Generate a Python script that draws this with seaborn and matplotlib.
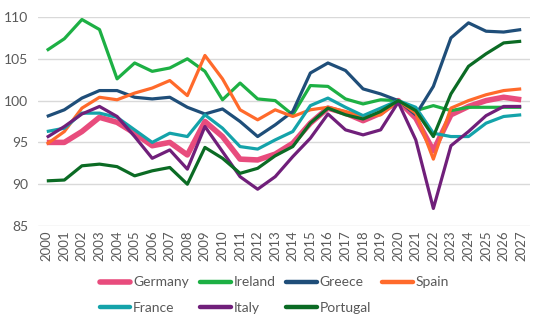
import matplotlib
matplotlib.use("Agg")
import matplotlib.pyplot as plt
import seaborn as sns
import pandas as pd
from matplotlib.lines import Line2D

years = list(range(2000, 2028))

germany = [95.0, 95.0, 96.3, 98.0, 97.4, 96.1, 94.6, 95.0, 93.5, 97.5, 95.7, 93.0, 92.9, 93.6,
           94.9, 97.3, 99.1, 98.5, 97.6, 98.5, 100.0, 97.9, 94.0, 98.3, 99.3, 100.0, 100.4, 100.1]
ireland = [106.0, 107.4, 109.7, 108.5, 102.6, 104.5, 103.5, 103.9, 105.0, 103.5, 100.1, 102.1, 100.2, 100.0,
           98.3, 101.8, 101.7, 100.2, 99.6, 100.1, 100.0, 98.8, 99.4, 98.8, 99.2, 99.2, 99.2, 99.2]
greece = [98.1, 98.9, 100.3, 101.2, 101.2, 100.4, 100.2, 100.4, 99.2, 98.4, 99.0, 97.5, 95.7, 97.1,
          98.7, 103.3, 104.5, 103.6, 101.4, 100.8, 100.0, 98.3, 101.7, 107.5, 109.3, 108.3, 108.2, 108.5]
spain = [94.8, 96.3, 99.1, 100.4, 100.1, 100.9, 101.5, 102.4, 100.6, 105.4, 102.6, 98.9, 97.7, 98.9,
         98.1, 98.9, 99.2, 98.7, 98.1, 98.3, 100.0, 98.5, 93.0, 99.1, 100.0, 100.7, 101.2, 101.4]
france = [96.3, 96.7, 98.5, 98.5, 98.0, 96.5, 95.0, 96.1, 95.7, 98.3, 96.7, 94.5, 94.2, 95.3,
          96.3, 99.4, 100.3, 99.2, 98.2, 99.1, 100.0, 99.2, 96.1, 95.7, 95.7, 97.3, 98.1, 98.3]
italy = [95.6, 96.9, 98.4, 99.3, 98.1, 95.7, 93.1, 94.1, 91.8, 96.9, 93.9, 90.9, 89.4, 90.9,
         93.3, 95.5, 98.4, 96.5, 95.9, 96.5, 99.8, 95.3, 87.1, 94.6, 96.3, 98.2, 99.3, 99.3]
portugal = [90.4, 90.5, 92.2, 92.4, 92.1, 91.0, 91.6, 92.0, 90.0, 94.4, 93.1, 91.3, 91.9, 93.4,
            94.5, 97.3, 99.1, 98.3, 97.8, 98.7, 100.0, 98.8, 95.7, 100.8, 104.1, 105.6, 106.9, 107.1]

series_names = ["Germany", "Ireland", "Greece", "Spain", "France", "Italy", "Portugal"]
series_values = [germany, ireland, greece, spain, france, italy, portugal]
colors = ["#E84C7D", "#1DB044", "#1F4E79", "#FF6A2B", "#14A3AA", "#701F7A", "#0B6B24"]
widths = [4.0, 2.3, 2.3, 2.3, 2.3, 2.3, 2.3]

sns.set_theme(style="white")
plt.rcParams["font.family"] = ["Lato", "DejaVu Sans"]
text_color = "#595959"

fig = plt.figure(figsize=(5.52, 3.31), dpi=100)
ax = fig.add_axes([38 / 552, 1 - 226 / 331, (530 - 38) / 552, (226 - 17) / 331])

for name, vals, c, w in zip(series_names, series_values, colors, widths):
    df = pd.DataFrame({"year": years, "value": vals})
    sns.lineplot(data=df, x="year", y="value", ax=ax, color=c, linewidth=w,
                 label=name, legend=False, solid_joinstyle="round", solid_capstyle="butt")

ax.set_xlim(1999.5, 2027.5)
ax.set_ylim(85, 110)
ax.set_yticks([85, 90, 95, 100, 105, 110])
ax.set_xticks(years)
ax.set_xticklabels([str(y) for y in years], rotation=90, fontsize=9.5, color=text_color)
ax.tick_params(axis="y", labelsize=10, colors=text_color, length=0, pad=7)
ax.tick_params(axis="x", length=0, pad=3)
ax.set_xlabel("")
ax.set_ylabel("")
ax.grid(axis="y", color="#D9D9D9", linewidth=1)
ax.grid(axis="x", visible=False)
for s in ["top", "right", "left", "bottom"]:
    ax.spines[s].set_visible(False)
ax.set_axisbelow(True)

order = ["Germany", "France", "Ireland", "Italy", "Greece", "Portugal", "Spain"]
leg_handles = []
for n in order:
    i = series_names.index(n)
    leg_handles.append(Line2D([0], [0], color=colors[i], linewidth=4.0 if n == "Germany" else 3.2,
                              solid_capstyle="round"))
leg = fig.legend(leg_handles, order, loc="center", bbox_to_anchor=(0.497, 1 - 295 / 331),
                 ncol=4, frameon=False, fontsize=10, handlelength=2.2, handletextpad=0.2,
                 columnspacing=0.8, labelspacing=0.95)
for t in leg.get_texts():
    t.set_color(text_color)

fig.savefig("out.png", dpi=100)
